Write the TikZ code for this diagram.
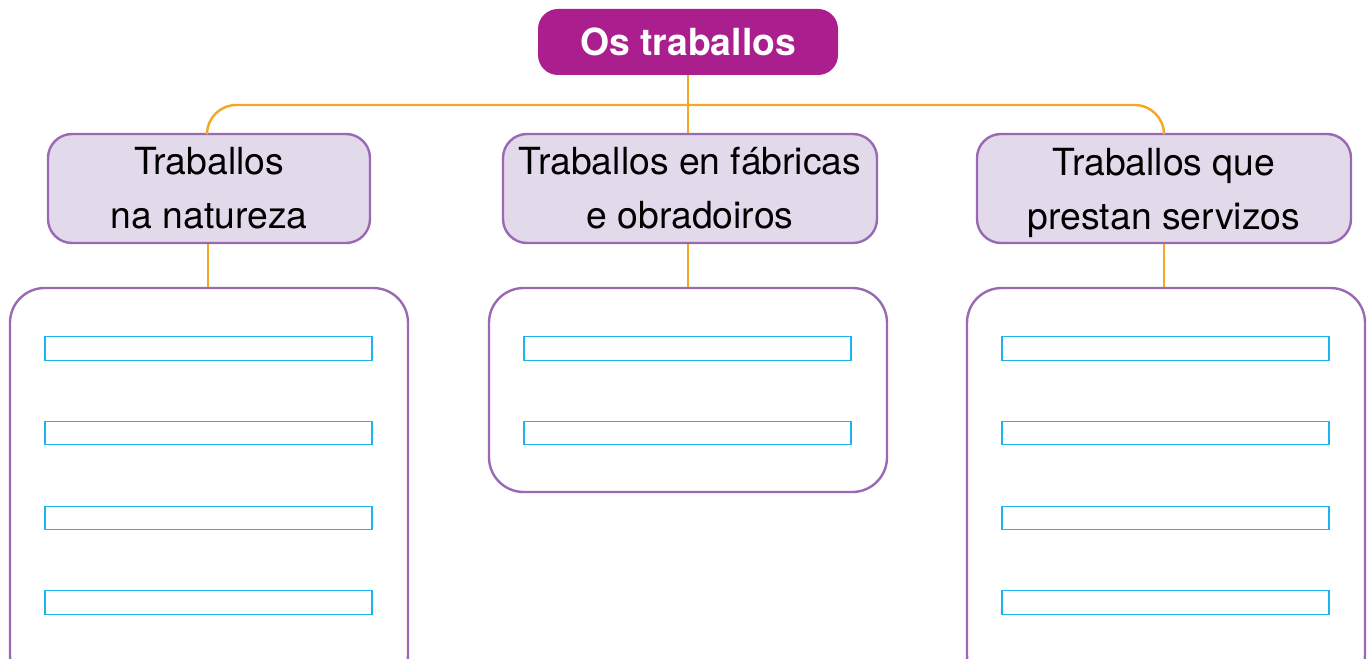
\documentclass[tikz,border=0pt]{standalone}
\usepackage{fontspec}
\setmainfont{TeX Gyre Heros}
\definecolor{mag}{HTML}{AA1F8D}
\definecolor{pborder}{HTML}{9A69B3}
\definecolor{pfill}{HTML}{E2D9EB}
\definecolor{orangeline}{HTML}{F5A623}
\definecolor{cyanline}{HTML}{1BB4EC}
\tikzset{
  topbox/.style={draw=none, fill=mag, rounded corners=15pt, minimum width=225pt, minimum height=49.5pt, text=white, font=\fontsize{28}{34}\selectfont\bfseries, inner sep=0pt},
  catbox/.style={draw=pborder, fill=pfill, line width=1.8pt, rounded corners=18pt, minimum height=81.75pt, align=center, font=\fontsize{28}{40.5}\selectfont, inner sep=0pt},
  listbox/.style={draw=pborder, fill=white, line width=1.8pt, rounded corners=26pt, minimum width=298.5pt, inner sep=0pt},
  blank/.style={draw=cyanline, line width=0.9pt, minimum width=245.25pt, minimum height=17.5pt, inner sep=0pt},
  conn/.style={draw=orangeline, line width=1.8pt}
}
\begin{document}
\begin{tikzpicture}[x=0.75pt, y=-0.75pt]
\clip (0,0) rectangle (1367,659);
% top
\node[topbox] (top) at (688,42) {Os traballos};
% categories
\node[catbox, minimum width=241.5pt] (c1) at (209,188.5) {Traballos\\na natureza};
\node[catbox, minimum width=280.5pt] (c2) at (690,188.5) {Traballos en fábricas\\e obradoiros};
\node[catbox, minimum width=280.5pt] (c3) at (1164,188.5) {Traballos que\\\raisebox{0pt}[\height][0pt]{prestan servizos}};
% list boxes
\node[listbox, minimum height=301.5pt] (l1) at (209,489) {};
\node[listbox, minimum height=153pt] (l2) at (688,390) {};
\node[listbox, minimum height=301.5pt] (l3) at (1166,489) {};
% blanks
\foreach \i/\y in {1/348.5, 2/433, 3/518, 4/602.5} {
  \node[blank] (b1\i) at (208.5,\y) {};
  \node[blank] (b3\i) at (1165.5,\y) {};
}
\node[blank] (b21) at (687.5,348.5) {};
\node[blank] (b22) at (687.5,433) {};
% connectors
\coordinate (bus) at (688,105);
\draw[conn] (top.south) -- (top.south |- c2.north);
\draw[conn, rounded corners=22pt] ([xshift=-1.5pt]c1.north) |- (bus) -| (c3.north);
\draw[conn] ([xshift=-0.75pt]c1.south) -- ([xshift=-0.75pt]c1.south |- l1.north);
\draw[conn] (top.south |- c2.south) -- (top.south |- l2.north);
\draw[conn] (c3.south) -- (c3.south |- l3.north);
\end{tikzpicture}
\end{document}
